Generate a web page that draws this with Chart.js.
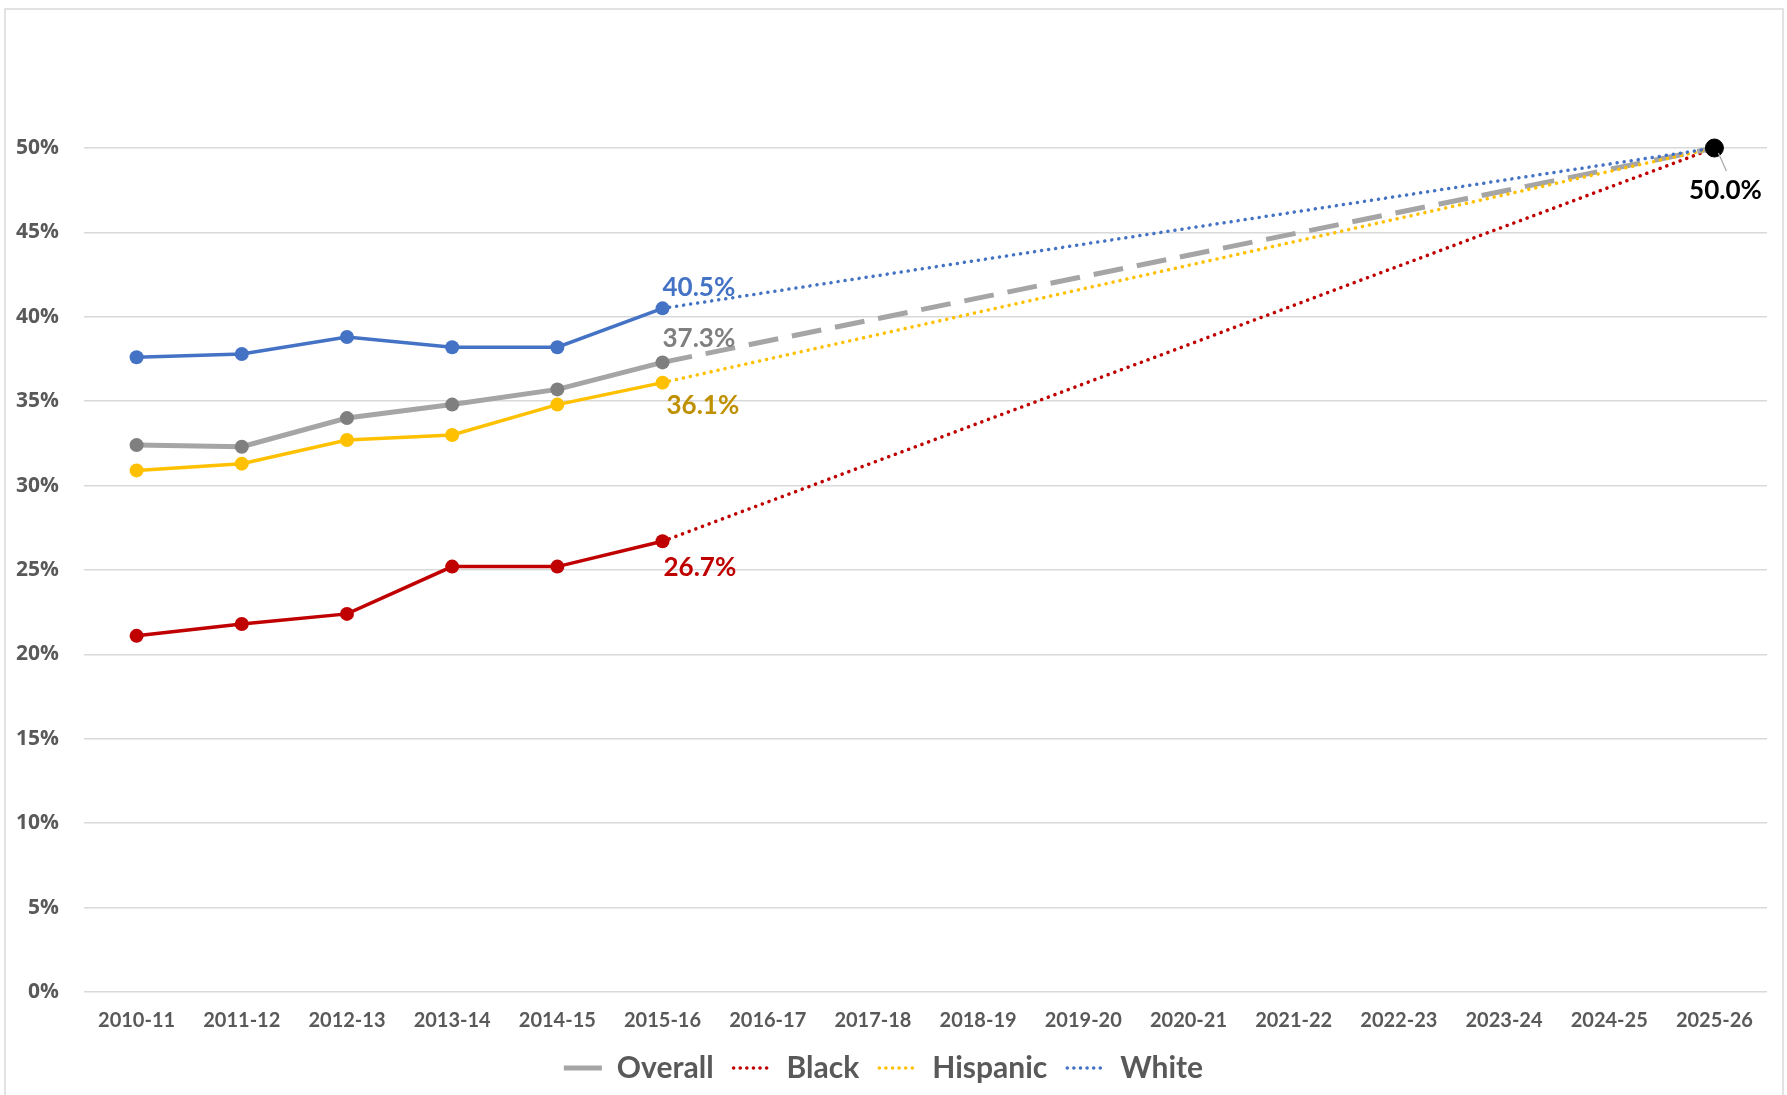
<!DOCTYPE html>
<html>
<head>
<meta charset="utf-8">
<script src="https://cdn.jsdelivr.net/npm/chart.js@4.4.0/dist/chart.umd.min.js"></script>
<style>
  html, body { margin: 0; padding: 0; background: #fff; }
  #wrap { width: 1787px; height: 1095px; position: relative; }
</style>
</head>
<body>
<div id="wrap"><canvas id="chart"></canvas></div>
<script>
// data
const years = ['2010-11', '2011-12', '2012-13', '2013-14', '2014-15', '2015-16', '2016-17', '2017-18',
  '2018-19', '2019-20', '2020-21', '2021-22', '2022-23', '2023-24', '2024-25', '2025-26'];
const overall = [32.4, 32.3, 34.0, 34.8, 35.7, 37.3];
const black = [21.1, 21.8, 22.4, 25.2, 25.2, 26.7];
const hispanic = [30.9, 31.3, 32.7, 33.0, 34.8, 36.1];
const white = [37.6, 37.8, 38.8, 38.2, 38.2, 40.5];
const goal = 50.0;

const lastActual = overall.length - 1;
const goalIndex = years.length - 1;

// actual values, then a gap up to the goal year
function withGoal(actual) {
  const out = years.map(() => null);
  actual.forEach((v, i) => { out[i] = v; });
  out[goalIndex] = goal;
  return out;
}

const series = [
  { name: 'White', values: white, color: '#4472C4', point: '#4472C4', label: '#4472C4',
    width: 3.5, projWidth: 3.5, dash: [0.1, 7], cap: 'round', dx: 0, dy: -21 },
  { name: 'Hispanic', values: hispanic, color: '#FFC000', point: '#FFC000', label: '#BF9000',
    width: 3.5, projWidth: 3.5, dash: [0.1, 7], cap: 'round', dx: 4, dy: 23 },
  { name: 'Overall', values: overall, color: '#A5A5A5', point: '#7F7F7F', label: '#7F7F7F',
    width: 5, projWidth: 5, dash: [30, 14], cap: 'butt', dx: 0, dy: -24 },
  { name: 'Black', values: black, color: '#C00000', point: '#C00000', label: '#C00000',
    width: 3.5, projWidth: 3.5, dash: [0.1, 7], cap: 'round', dx: 1, dy: 26 }
];
const legendOrder = ['Overall', 'Black', 'Hispanic', 'White'];

const datasets = [{
  label: 'Goal',
  data: years.map((y, i) => i === goalIndex ? goal : null),
  showLine: false,
  pointRadius: 9,
  pointBackgroundColor: '#000',
  pointBorderColor: '#000',
  clip: false
}].concat(series.map(s => ({
  label: s.name,
  data: withGoal(s.values),
  spanGaps: true,
  borderColor: s.color,
  borderWidth: s.width,
  borderCapStyle: s.cap,
  pointRadius: ctx => ctx.dataIndex === goalIndex ? 0 : 7,
  pointBackgroundColor: s.point,
  pointBorderColor: s.point,
  pointBorderWidth: 0,
  clip: false,
  segment: {
    borderDash: ctx => ctx.p0DataIndex >= lastActual ? s.dash : undefined,
    borderWidth: ctx => ctx.p0DataIndex >= lastActual ? s.projWidth : s.width
  }
})));

const frame = {
  id: 'frame',
  beforeDraw(chart) {
    const ctx = chart.ctx;
    ctx.save();
    ctx.fillStyle = '#fff';
    ctx.fillRect(0, 0, chart.width, chart.height);
    ctx.strokeStyle = '#D9D9D9';
    ctx.lineWidth = 1.5;
    ctx.strokeRect(5, 9, chart.width - 9, chart.height + 10);
    ctx.restore();
  }
};

const endLabels = {
  id: 'endLabels',
  afterDatasetsDraw(chart) {
    const { ctx, scales: { x, y } } = chart;
    ctx.save();
    ctx.font = 'bold 26px Lato';
    ctx.textBaseline = 'middle';
    ctx.textAlign = 'left';
    series.forEach(s => {
      const v = s.values[lastActual];
      ctx.fillStyle = s.label;
      ctx.fillText(v.toFixed(1) + '%', x.getPixelForValue(lastActual) + s.dx, y.getPixelForValue(v) + s.dy);
    });
    const gx = x.getPixelForValue(goalIndex), gy = y.getPixelForValue(goal);
    ctx.strokeStyle = '#A6A6A6';
    ctx.lineWidth = 1.2;
    ctx.beginPath();
    ctx.moveTo(gx + 4, gy + 5);
    ctx.lineTo(gx + 12, gy + 23);
    ctx.stroke();
    ctx.fillStyle = '#000';
    ctx.textAlign = 'center';
    ctx.fillText(goal.toFixed(1) + '%', gx + 11, gy + 43);
    ctx.restore();
  }
};

new Chart(document.getElementById('chart'), {
  type: 'line',
  data: { labels: years, datasets: datasets },
  options: {
    responsive: true,
    maintainAspectRatio: false,
    animation: false,
    devicePixelRatio: 1,
    layout: { padding: { top: 148, left: 0, right: 20, bottom: 2 } },
    plugins: {
      tooltip: { enabled: false },
      legend: {
        position: 'bottom',
        labels: {
          usePointStyle: true,
          pointStyleWidth: 38,
          boxHeight: 20,
          padding: 20,
          color: '#595959',
          font: { family: 'Lato', weight: 'bold', size: 30 },
          generateLabels: () => legendOrder.map(name => {
            const s = series.find(d => d.name === name);
            return {
              text: s.name,
              fillStyle: s.color,
              strokeStyle: s.color,
              fontColor: '#595959',
              lineWidth: name === 'Overall' ? 5 : 3.5,
              lineDash: name === 'Overall' ? [] : [0.1, 6.5],
              lineCap: name === 'Overall' ? 'butt' : 'round',
              pointStyle: 'line',
              hidden: false
            };
          })
        }
      }
    },
    scales: {
      x: {
        offset: true,
        grid: { display: false },
        border: { display: false },
        afterFit: axis => { axis.height = 41; },
        ticks: { color: '#595959', padding: 9, maxRotation: 0, autoSkip: false,
          font: { family: 'Lato', weight: 'bold', size: 20 } }
      },
      y: {
        min: 0,
        max: 50,
        grid: { color: '#D9D9D9', lineWidth: 1.5, drawTicks: false },
        border: { display: false },
        afterFit: axis => { axis.width = 84; },
        ticks: { stepSize: 5, padding: 25, color: '#595959',
          font: { family: 'Open Sans', weight: 'bold', size: 21 },
          callback: v => v + '%' }
      }
    }
  },
  plugins: [frame, endLabels]
});
</script>
</body>
</html>
